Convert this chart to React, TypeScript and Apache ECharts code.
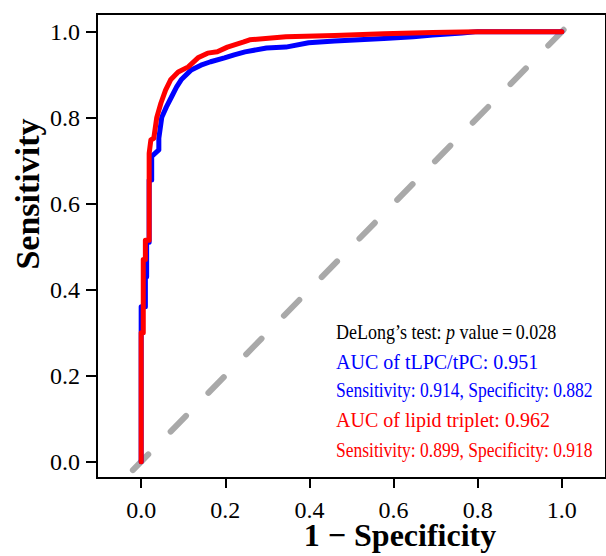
import React, { useEffect, useRef } from "react";
import * as echarts from "echarts";

const tickValues = [0, 0.2, 0.4, 0.6, 0.8, 1.0];

const tlpcFpr = [0, 0, 0.01, 0.01, 0.013, 0.013, 0.019, 0.019, 0.025, 0.025, 0.042, 0.042, 0.049, 0.06, 0.072, 0.084, 0.095, 0.119, 0.142, 0.165, 0.198, 0.221, 0.247, 0.298, 0.344, 0.398, 0.46, 0.577, 0.647, 0.693, 0.763, 0.8, 1.0];
const tlpcTpr = [0, 0.36, 0.36, 0.43, 0.43, 0.51, 0.51, 0.655, 0.655, 0.71, 0.725, 0.752, 0.801, 0.825, 0.848, 0.871, 0.888, 0.911, 0.922, 0.93, 0.939, 0.946, 0.953, 0.962, 0.964, 0.974, 0.978, 0.984, 0.988, 0.992, 0.997, 1.0, 1.0];

const tripletFpr = [0, 0, 0.005, 0.005, 0.01, 0.01, 0.019, 0.019, 0.023, 0.03, 0.037, 0.047, 0.058, 0.07, 0.088, 0.112, 0.135, 0.158, 0.181, 0.205, 0.244, 0.258, 0.344, 0.46, 0.577, 0.693, 0.8, 1.0];
const tripletTpr = [0, 0.3, 0.3, 0.47, 0.47, 0.515, 0.515, 0.717, 0.748, 0.752, 0.8, 0.834, 0.864, 0.888, 0.906, 0.918, 0.939, 0.95, 0.953, 0.964, 0.976, 0.981, 0.988, 0.991, 0.995, 0.998, 1.0, 1.0];

const diagonal = [-0.038, 1.041];

const delongText = ["DeLong\u2019s test: ", "p", " value\u2009=\u20090.028"];
const blueLines = ["AUC of tLPC/tPC: 0.951", "Sensitivity: 0.914, Specificity: 0.882"];
const redLines = ["AUC of lipid triplet: 0.962", "Sensitivity: 0.899, Specificity: 0.918"];

const FONT = "Liberation Serif";

const X_MIN = -0.105;
const X_MAX = 1.105;
const Y_MIN = -0.038;
const Y_MAX = 1.041;

export default function App() {
  const ref = useRef<HTMLDivElement>(null);
  useEffect(() => {
    if (!ref.current) return;
    const chart = echarts.init(ref.current, null, { renderer: "svg" });
    const pts = (xs: number[], ys: number[]) => xs.map((x, i) => [x, ys[i]]);
    const textStyleBase = { fontFamily: FONT, fontSize: 20 };
    const annoX = 336;
    const axisLabel = {
      show: true,
      customValues: tickValues,
      formatter: (v: number) => v.toFixed(1),
      fontFamily: FONT,
      fontSize: 24,
      color: "#000",
    };
    const axisTick = {
      show: true,
      inside: false,
      customValues: tickValues,
      lineStyle: { color: "#000", width: 2 },
    };
    const option: any = {
      animation: false,
      textStyle: { fontFamily: FONT },
      grid: {
        left: 97,
        top: 14,
        right: -11.3,
        bottom: 78,
        show: true,
        borderColor: "#000",
        borderWidth: 2,
        backgroundColor: "transparent",
      },
      xAxis: {
        type: "value",
        min: X_MIN,
        max: X_MAX,
        position: "bottom",
        axisLine: { show: false, onZero: false },
        splitLine: { show: false },
        axisTick: { ...axisTick, length: 10 },
        axisLabel: { ...axisLabel, margin: 20 },
      },
      yAxis: {
        type: "value",
        min: Y_MIN,
        max: Y_MAX,
        position: "left",
        axisLine: { show: false, onZero: false },
        splitLine: { show: false },
        axisTick: { ...axisTick, length: 11 },
        axisLabel: { ...axisLabel, margin: 17 },
      },
      series: [
        {
          type: "line",
          data: pts(diagonal, diagonal),
          showSymbol: false,
          clip: false,
          lineStyle: { color: "#a9a9a9", width: 6, type: [22, 32], dashOffset: 42.5, cap: "round" },
          z: 1,
        },
        {
          type: "line",
          data: pts(tlpcFpr, tlpcTpr),
          showSymbol: false,
          clip: false,
          lineStyle: { color: "#0000ff", width: 5, cap: "round", join: "round" },
          z: 2,
        },
        {
          type: "line",
          data: pts(tripletFpr, tripletTpr),
          showSymbol: false,
          clip: false,
          lineStyle: { color: "#ff0000", width: 5, cap: "round", join: "round" },
          z: 3,
        },
      ],
      graphic: [
        {
          type: "text",
          x: 27,
          y: 194,
          rotation: Math.PI / 2,
          style: {
            text: "Sensitivity",
            fontFamily: FONT,
            fontSize: 34,
            fontWeight: "bold",
            fill: "#000",
            textAlign: "center",
            textVerticalAlign: "middle",
          },
        },
        {
          type: "text",
          x: 400,
          y: 535,
          style: {
            text: "1 \u2212 Specificity",
            fontFamily: FONT,
            fontSize: 32,
            fontWeight: "bold",
            fill: "#000",
            textAlign: "center",
            textVerticalAlign: "middle",
          },
        },
        {
          type: "text",
          x: annoX,
          y: 332.5,
          scaleX: 0.9,
          style: {
            text: `{a|${delongText[0]}}{i|${delongText[1]}}{a|${delongText[2]}}`,
            rich: {
              a: { ...textStyleBase, fill: "#000", color: "#000" },
              i: { ...textStyleBase, fontStyle: "italic", fill: "#000", color: "#000" },
            },
            ...textStyleBase,
            fill: "#000",
            textAlign: "left",
            textVerticalAlign: "middle",
          },
        },
        {
          type: "text",
          x: annoX,
          y: 361.5,
          style: { text: blueLines[0], ...textStyleBase, fill: "#0000ff", textAlign: "left", textVerticalAlign: "middle" },
        },
        {
          type: "text",
          x: annoX,
          y: 390.5,
          scaleX: 0.875,
          style: { text: blueLines[1], ...textStyleBase, fill: "#0000ff", textAlign: "left", textVerticalAlign: "middle" },
        },
        {
          type: "text",
          x: annoX,
          y: 420,
          style: { text: redLines[0], ...textStyleBase, fill: "#ff0000", textAlign: "left", textVerticalAlign: "middle" },
        },
        {
          type: "text",
          x: annoX,
          y: 450,
          scaleX: 0.875,
          style: { text: redLines[1], ...textStyleBase, fill: "#ff0000", textAlign: "left", textVerticalAlign: "middle" },
        },
      ],
    };
    chart.setOption(option);
    return () => chart.dispose();
  }, []);
  return (
    <div
      ref={ref}
      style={{ position: "fixed", left: 0, top: 0, width: 606, height: 556, background: "#fff" }}
    />
  );
}
